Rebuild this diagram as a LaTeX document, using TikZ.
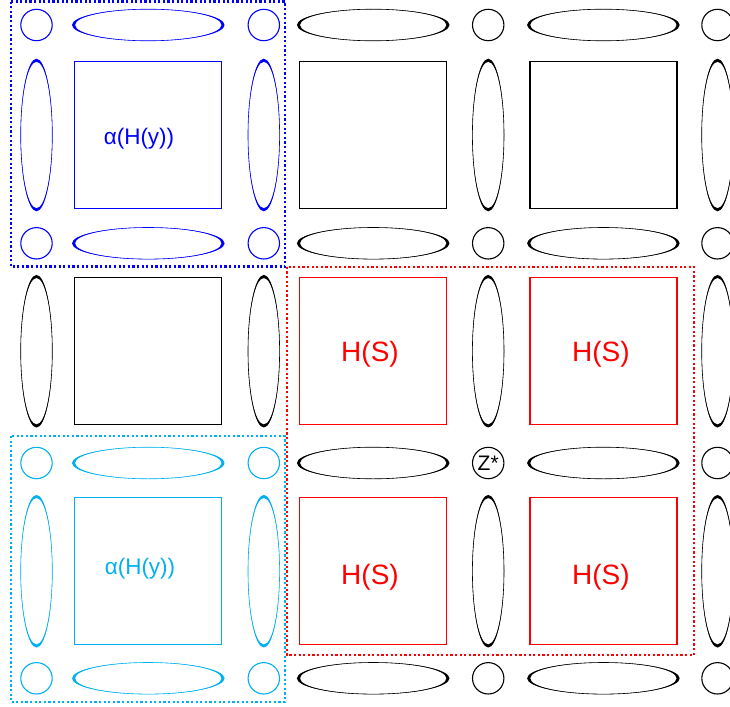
\documentclass[tikz,border=0pt]{standalone}
\usepackage{fontspec}
\setmainfont{Liberation Sans}
\definecolor{myblue}{RGB}{0,0,255}
\definecolor{mycyan}{RGB}{0,176,240}
\definecolor{myred}{RGB}{255,0,0}
\begin{document}
\begin{tikzpicture}[x=1pt,y=-1pt,
  circ/.style={circle, draw, line width=1.1pt, minimum size=31.4pt, inner sep=0pt},
  sq/.style={rectangle, draw, line width=1.2pt, minimum size=147pt, inner sep=0pt},
  dotbox/.style={line width=2.2pt, dash pattern=on 2.2pt off 2.4pt},
  lab/.style={anchor=base, inner sep=0pt},
]
\useasboundingbox (0,0) rectangle (730,706);

% squares
\foreach \x/\y/\c/\n in {148.3/135/myblue/s11, 373.2/135/black/s21, 603.5/135/black/s31,
                         148.3/351.2/black/s12, 373.2/351.2/myred/s22, 603.5/351.2/myred/s32,
                         148.3/571.2/mycyan/s13, 373.2/571.2/myred/s23, 603.5/571.2/myred/s33}
  \node[sq, draw=\c] (\n) at (\x,\y) {};

% circles
\foreach \x/\y/\c/\n in {36.5/25/myblue/c11, 263.8/25/myblue/c21, 488.2/25/black/c31, 717.5/25/black/c41,
                         36.5/243.3/myblue/c12, 263.8/243.3/myblue/c22, 488.2/243.3/black/c32, 717.5/243.3/black/c42,
                         36.5/463/mycyan/c13, 263.8/463/mycyan/c23, 717.5/463/black/c43,
                         36.5/678.3/mycyan/c14, 263.8/678.3/mycyan/c24, 488.2/678.3/black/c34, 717.5/678.3/black/c44}
  \node[circ, draw=\c] (\n) at (\x,\y) {};
\node[circ, draw=black, font=\fontsize{21}{21}\selectfont] (c33) at (488.2,463) {Z*};

% vertical ellipses
\foreach \x/\y/\c in {36.5/135/myblue, 263.8/135/myblue, 488.2/135/black, 717.5/135/black,
                      36.5/351.2/black, 263.8/351.2/black, 488.2/351.2/black, 717.5/351.2/black,
                      36.5/571.2/mycyan, 263.8/571.2/mycyan, 488.2/571.2/black, 717.5/571.2/black}
{
  \fill[\c, even odd rule] (\x,\y) ellipse [x radius=15.8pt, y radius=76.3pt]
                           (\x,\y) ellipse [x radius=15.8pt, y radius=73.2pt];
  \draw[\c, line width=0.6pt] (\x,\y) ellipse [x radius=15.8pt, y radius=75pt];
}

% horizontal ellipses
\foreach \x/\y/\c in {148.3/25/myblue, 373.2/25/black, 603.4/25/black,
                      148.3/243.3/myblue, 373.2/243.3/black, 603.4/243.3/black,
                      148.3/463/mycyan, 373.2/463/black, 603.4/463/black,
                      148.3/678.3/mycyan, 373.2/678.3/black, 603.4/678.3/black}
{
  \fill[\c, even odd rule] (\x,\y) ellipse [x radius=76.3pt, y radius=15.8pt]
                           (\x,\y) ellipse [x radius=73.2pt, y radius=15.8pt];
  \draw[\c, line width=0.6pt] (\x,\y) ellipse [x radius=75pt, y radius=15.8pt];
}

% labels
\node[lab, text=myblue, font=\fontsize{22.5}{22.5}\selectfont] (t1) at (139,144.5) {α(H(y))};
\node[lab, text=mycyan, font=\fontsize{22.5}{22.5}\selectfont] (t2) at (140,574.8) {α(H(y))};
\node[lab, text=myred, font=\fontsize{28}{28}\selectfont] (t3) at (370,361.7) {H(S)};
\node[lab, text=myred, font=\fontsize{28}{28}\selectfont] (t4) at (600.8,361.7) {H(S)};
\node[lab, text=myred, font=\fontsize{28}{28}\selectfont] (t5) at (370,584) {H(S)};
\node[lab, text=myred, font=\fontsize{28}{28}\selectfont] (t6) at (600.8,584) {H(S)};

% dotted boxes
\draw[dotbox, myblue] (10.8,1.6) rectangle (285.3,266.5);
\draw[dotbox, myred] (286.6,266.8) rectangle (694,655);
\draw[dotbox, mycyan] (10.8,436) rectangle (284.7,702);
\end{tikzpicture}
\end{document}
